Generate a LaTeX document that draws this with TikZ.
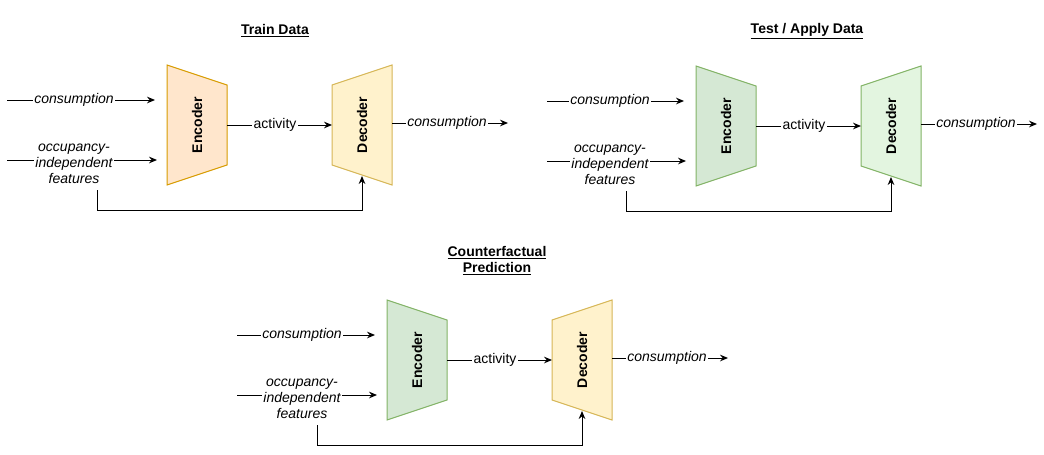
\documentclass[tikz,border=0pt]{standalone}
\usepackage{fontspec}
\setmainfont{Liberation Sans}
\usepackage{tikz}
\usetikzlibrary{arrows.meta}
\definecolor{encorange}{HTML}{FFE6CC}
\definecolor{lineorange}{HTML}{D79B00}
\definecolor{decyellow}{HTML}{FFF2CC}
\definecolor{lineyellow}{HTML}{D6B656}
\definecolor{encgreen}{HTML}{D5E8D4}
\definecolor{decgreen}{HTML}{E3F5E0}
\definecolor{linegreen}{HTML}{82B366}

\tikzset{
	flow/.style={line width=0.75pt,-{Stealth[length=6pt,width=5pt,inset=2pt]}},
	feat/.style={font=\itshape,fill=white,inner sep=1pt,align=center},
	lbl/.style={fill=white,inner sep=1pt},
	blocktext/.style={font=\bfseries,rotate=90},
	paneltitle/.style={font=\bfseries,align=center},
}

\begin{document}
\fontsize{10.5}{12}\selectfont
\begin{tikzpicture}[x=0.75pt,y=-0.75pt]
	\useasboundingbox (0,0) rectangle (1044,454);
	\node[paneltitle] (train) at (275,31) {\underline{Train Data}};
	\node[paneltitle] (test) at (807,31) {\underline{Test / Apply Data}};
	\node[paneltitle] (cfact) at (497,261) {\underline{Counterfactual}\\\underline{Prediction}};
	\foreach \p/\ox/\oy/\sx/\lx/\ef/\ed/\df/\dd in {1/167/65/160/93/encorange/lineorange/decyellow/lineyellow,2/696/66/149/86/encgreen/linegreen/decgreen/linegreen,3/387/300/150/85/encgreen/linegreen/decyellow/lineyellow}{
		\begin{scope}[shift={(\ox,\oy)}]
			\draw[fill=\ef,draw=\ed,line width=0.75pt] (0,0) -- (60,20) -- (60,100) -- (0,120) -- cycle;
			\draw[fill=\df,draw=\dd,line width=0.75pt] (165,20) -- (225,0) -- (225,120) -- (165,100) -- cycle;
			\node[blocktext] (enc\p) at (30,60) {Encoder};
			\node[blocktext] (dec\p) at (195,60) {Decoder};
			\coordinate (cin\p) at (-\sx,35);
			\coordinate (cto\p) at (-12,35);
			\coordinate (oin\p) at (-\sx,95);
			\coordinate (oto\p) at (-10,95);
			\coordinate (eout\p) at (60,60);
			\coordinate (din\p) at (165,60);
			\coordinate (dout\p) at (225,58);
			\coordinate (cout\p) at (341,58);
			\coordinate (fb\p) at (-70,125);
			\coordinate (dbot\p) at (195,111);
			\draw[flow] (cin\p) -- (cto\p);
			\draw[flow] (oin\p) -- (oto\p);
			\draw[flow] (eout\p) -- (din\p);
			\draw[flow] (dout\p) -- (cout\p);
			\node[feat] (cinl\p) at (-\lx,35) {consumption};
			\node[feat] (oinl\p) at (-\lx,99) {occupancy-\\independent\\features};
			\node[lbl] (actl\p) at (108,60) {activity};
			\node[feat] (coutl\p) at (280,58) {consumption};
			\draw[flow] (fb\p) -- ++(0,20) -| (dbot\p);
		\end{scope}
	}
\end{tikzpicture}
\end{document}
